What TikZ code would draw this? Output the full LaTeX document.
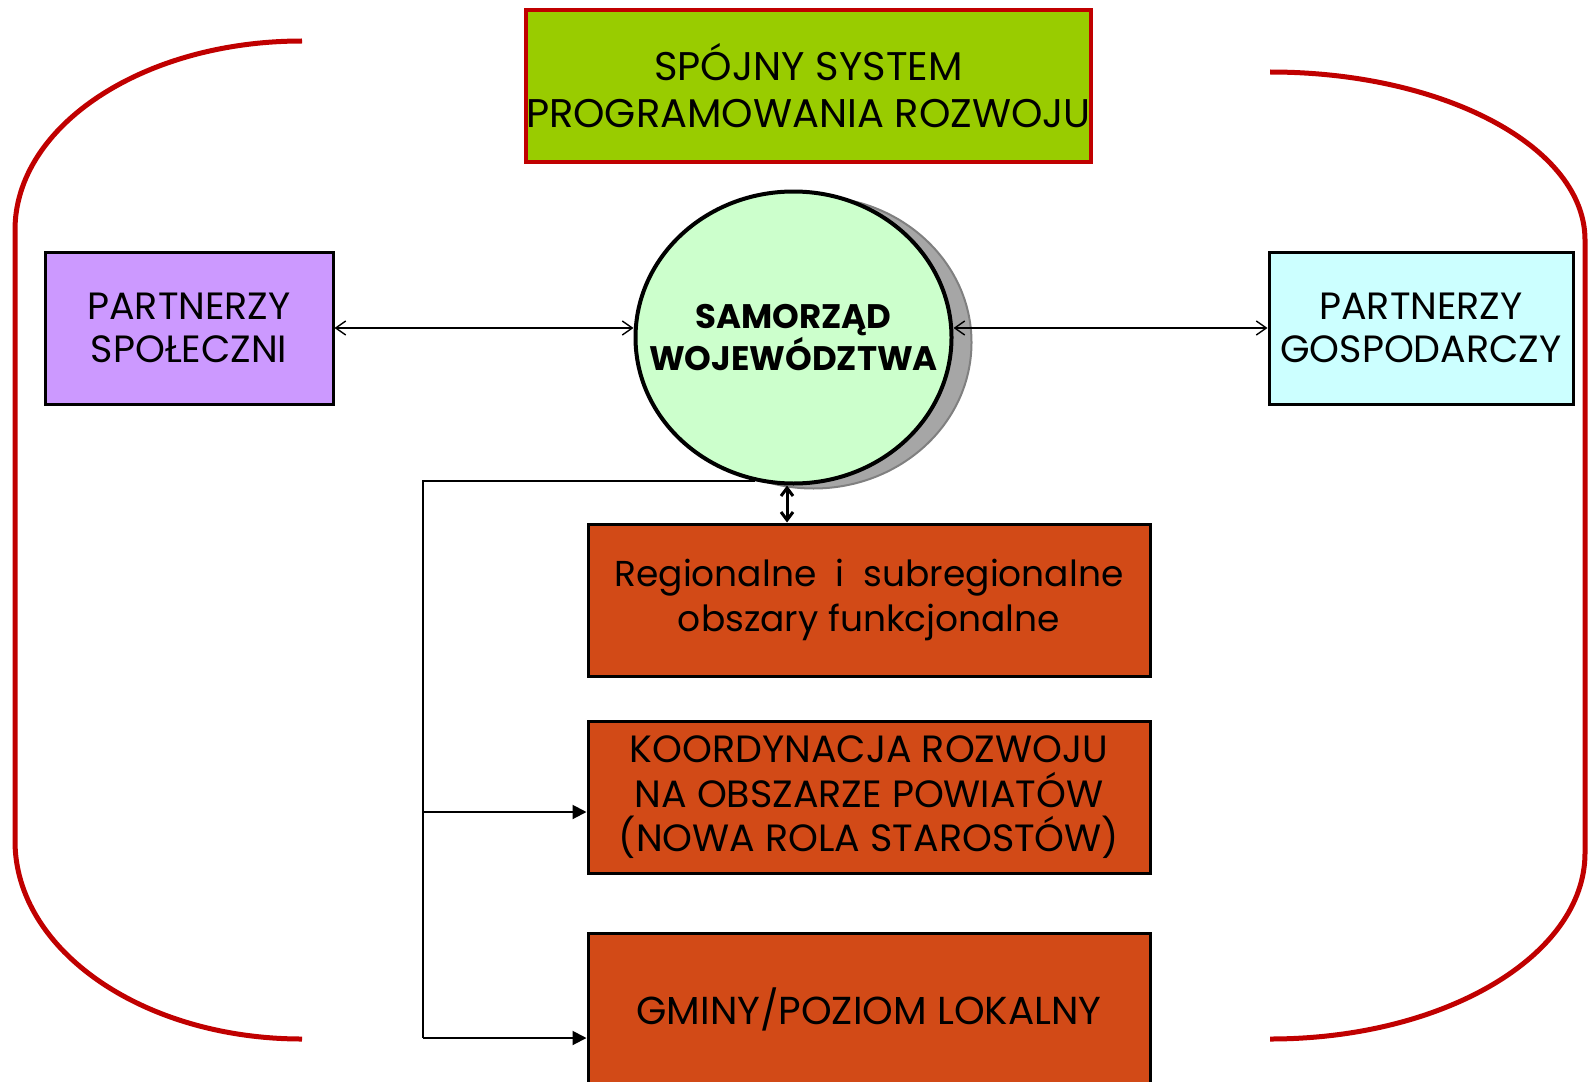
\documentclass[tikz,border=0pt]{standalone}
\usepackage{fontspec}
\setmainfont{Poppins}
\usetikzlibrary{shapes.geometric,arrows.meta}
\definecolor{brred}{HTML}{C00000}
\definecolor{topgreen}{HTML}{99CC00}
\definecolor{lilac}{HTML}{CC99FF}
\definecolor{paleblue}{HTML}{CCFFFF}
\definecolor{palegreen}{HTML}{CCFFCC}
\definecolor{rust}{HTML}{D24A17}
\definecolor{shadowgray}{HTML}{A6A6A6}
\begin{document}
\begin{tikzpicture}[x=0.5pt,y=-0.5pt,
  box/.style={draw=black,line width=1.5pt,rectangle,inner sep=0pt,align=center},
  partner/.style={box,minimum width=144pt,minimum height=76pt,font=\fontsize{19}{21.5}\selectfont},
  level/.style={box,fill=rust,minimum width=281pt,minimum height=76pt,font=\fontsize{19}{22.3}\selectfont},
  thinarrow/.style={line width=0.7pt,{Straight Barb[length=5pt,width=7pt]}-{Straight Barb[length=5pt,width=7pt]}},
  thickarrow/.style={line width=1.5pt,{Straight Barb[length=4pt,width=6pt]}-{Straight Barb[length=4pt,width=6pt]}},
  feed/.style={line width=1pt,-{Triangle[length=7pt,width=7pt]}},
  bracket/.style={draw=brred,line width=2.5pt}]
\useasboundingbox (0,0) rectangle (1589,1081);

% outer brackets
\draw[bracket] (302,41) .. controls (143.5,41) and (15,125.6) .. (15,230)
  -- (15,841) .. controls (15,950.4) and (143.5,1039) .. (302,1039);
\draw[bracket] (1270,72) .. controls (1444,72) and (1585,147.2) .. (1585,240)
  -- (1585,853) .. controls (1585,955.7) and (1444,1039) .. (1270,1039);

% title
\node[box,draw=brred,line width=1.75pt,fill=topgreen,minimum width=280pt,minimum height=76pt,
  font=\fontsize{20}{23.5}\selectfont] (title) at (808.5,86)
  {SPÓJNY SYSTEM\\PROGRAMOWANIA ROZWOJU};

% partners
\node[partner,fill=lilac] (spol) at (189,328) {PARTNERZY\\SPOŁECZNI};
\node[partner,fill=paleblue,minimum width=152pt] (gosp) at (1421,328) {PARTNERZY\\GOSPODARCZY};

% central ellipse with shadow
\node[ellipse,draw=gray,line width=1pt,fill=shadowgray,minimum width=158pt,minimum height=146pt,inner sep=0pt] (shadow) at (813.5,342.5) {};
\node[ellipse,draw=black,line width=2pt,fill=palegreen,minimum width=158pt,minimum height=146pt,inner sep=0pt,
  font=\bfseries\fontsize{17}{21}\selectfont,align=center] (sam) at (793.5,337.5)
  {\makebox[0pt]{SAMORZĄD}\\\makebox[0pt]{WOJEWÓDZTWA}};

% levels
\node[level,font=\fontsize{18}{22.5}\selectfont] (reg) at (869,600) {Regionalne \ i \ subregionalne\\obszary funkcjonalne};
\node[level] (koord) at (869,797.5) {KOORDYNACJA ROZWOJU\\NA OBSZARZE POWIATÓW\\(NOWA ROLA STAROSTÓW)};
\node[level,font=\fontsize{19.5}{22.5}\selectfont] (gminy) at (869,1009) {GMINY/POZIOM LOKALNY};

% connectors
\draw[thinarrow] (spol.east) -- (spol.east -| sam.west);
\draw[thinarrow] (sam.east |- gosp.west) -- (gosp.west);
\draw[thickarrow] ([xshift=-3.25pt]sam.south) -- ([xshift=-3.25pt]sam.south |- reg.north);

\coordinate (bk) at (423,812);
\coordinate (bg) at (423,1038);
\draw[line width=1pt] (sam.255) -| (bg);
\draw[feed] (bk) -- (bk -| koord.west);
\draw[feed] (bg) -- (bg -| gminy.west);
\end{tikzpicture}
\end{document}
